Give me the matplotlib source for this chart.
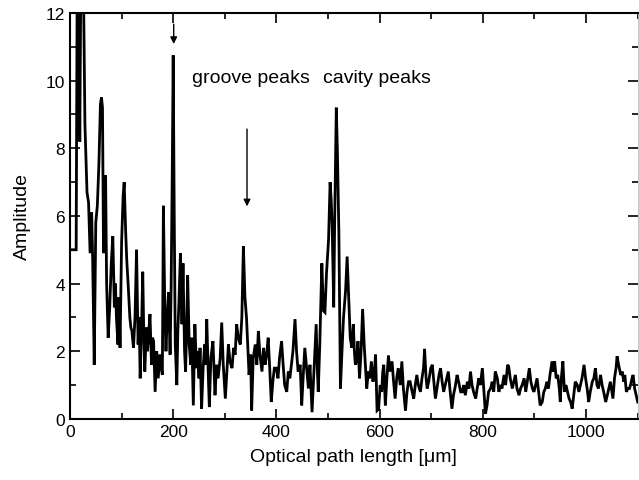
import matplotlib
matplotlib.use("Agg")
import matplotlib.pyplot as plt
from matplotlib.ticker import MultipleLocator

plt.rcParams['font.family'] = ['Liberation Sans', 'DejaVu Sans']

path_um = [
    0, 12, 14, 17, 19, 21, 26, 29, 33, 36, 39, 42, 44, 47, 50, 53, 56, 59, 61, 63,
    65, 67, 69, 71, 74, 77, 80, 83, 86, 88, 90, 93, 95, 97, 100, 103, 105, 108, 110, 113,
    116, 118, 120, 123, 126, 129, 132, 134, 136, 139, 141, 143, 145, 148, 150, 152, 155, 158, 160, 162,
    165, 168, 171, 174, 176, 179, 181, 184, 186, 189, 191, 194, 196, 198, 200, 202, 204, 207, 209, 211,
    214, 217, 219, 222, 224, 226, 228, 231, 234, 236, 239, 242, 245, 247, 250, 252, 255, 258, 261, 263,
    265, 268, 270, 273, 277, 279, 281, 284, 287, 291, 294, 297, 301, 304, 307, 310, 314, 317, 320, 323,
    326, 330, 333, 336, 339, 342, 345, 347, 350, 352, 355, 359, 362, 365, 368, 372, 375, 378, 381, 384,
    387, 390, 393, 396, 400, 403, 406, 410, 413, 416, 420, 423, 426, 429, 432, 436, 439, 442, 446, 449,
    452, 455, 458, 462, 465, 469, 472, 475, 477, 479, 481, 484, 486, 488, 491, 494, 497, 501, 504, 506,
    508, 511, 513, 516, 518, 521, 524, 527, 530, 534, 537, 540, 543, 546, 549, 551, 553, 555, 558, 561,
    564, 567, 570, 573, 575, 578, 581, 584, 587, 590, 592, 595, 598, 601, 604, 606, 608, 611, 614, 617,
    620, 624, 627, 630, 633, 636, 640, 643, 646, 650, 653, 656, 659, 663, 666, 669, 672, 675, 679, 682,
    685, 687, 690, 692, 695, 699, 702, 705, 708, 711, 715, 718, 721, 724, 727, 730, 733, 736, 740, 743,
    747, 750, 753, 757, 760, 763, 766, 770, 773, 776, 779, 782, 786, 789, 792, 795, 799, 802, 805, 808,
    811, 815, 818, 821, 824, 828, 831, 834, 837, 841, 844, 848, 850, 853, 857, 860, 863, 866, 870, 873,
    876, 880, 883, 886, 890, 893, 896, 899, 902, 905, 908, 911, 915, 918, 921, 924, 927, 930, 934, 937,
    939, 942, 945, 948, 950, 952, 955, 958, 961, 964, 967, 970, 973, 976, 979, 983, 986, 989, 992, 996,
    999, 1002, 1005, 1008, 1012, 1015, 1018, 1021, 1024, 1028, 1031, 1034, 1038, 1041, 1044, 1047, 1050, 1052, 1055, 1058,
    1060, 1063, 1067, 1070, 1073, 1075, 1078, 1081, 1084, 1086, 1089, 1091, 1094, 1097, 1100,
]

amplitude = [
    5.0, 5.0, 13.0, 13.0, 8.2, 13.0, 13.0, 8.7, 6.7, 6.4, 4.9, 6.1, 4.7, 1.6, 5.8, 6.3, 7.5, 9.3, 9.5, 9.2,
    4.9, 5.6, 7.2, 4.0, 2.4, 3.3, 4.6, 5.4, 3.3, 4.0, 3.0, 2.2, 3.6, 2.1, 5.2, 6.6, 7.0, 5.5, 4.7, 3.9,
    3.0, 2.7, 2.6, 2.1, 3.0, 5.0, 2.2, 3.0, 1.2, 2.9, 4.35, 2.5, 1.4, 2.7, 2.0, 2.4, 3.1, 1.6, 2.4, 2.3,
    0.8, 2.0, 1.2, 1.9, 1.6, 1.3, 6.3, 3.0, 2.0, 3.2, 3.75, 1.9, 3.9, 7.0, 10.75, 6.0, 2.2, 1.0, 2.6, 3.4,
    4.9, 2.8, 4.6, 2.0, 1.4, 2.6, 4.25, 2.2, 1.6, 2.4, 0.4, 2.8, 1.5, 2.0, 1.2, 2.1, 0.3, 1.5, 2.2, 1.6,
    2.95, 1.3, 0.35, 1.8, 2.3, 1.5, 0.7, 1.6, 1.2, 1.8, 2.85, 1.6, 0.6, 1.4, 2.2, 1.7, 1.5, 2.1, 1.9, 2.8,
    2.4, 2.2, 3.0, 5.1, 3.6, 3.0, 2.0, 1.3, 1.9, 0.25, 1.8, 2.2, 1.6, 2.6, 1.9, 1.4, 2.1, 1.6, 1.9, 2.4,
    1.5, 0.5, 1.1, 1.5, 1.5, 1.2, 1.8, 2.3, 1.6, 1.0, 0.8, 1.4, 1.2, 1.6, 2.0, 2.95, 2.0, 1.4, 1.6, 0.4,
    1.3, 2.1, 1.6, 0.9, 1.6, 0.2, 1.2, 2.2, 2.8, 1.6, 0.8, 2.2, 3.4, 4.6, 3.2, 3.15, 4.3, 5.3, 7.0, 6.5,
    5.7, 3.3, 6.0, 9.2, 8.0, 5.5, 0.9, 2.0, 3.0, 3.8, 4.8, 3.6, 2.4, 2.1, 2.8, 2.0, 1.6, 1.7, 2.3, 1.2,
    2.0, 3.25, 2.2, 1.4, 0.9, 1.4, 1.2, 1.7, 1.1, 1.4, 1.9, 0.25, 0.3, 1.0, 0.8, 1.4, 1.6, 0.4, 1.2, 1.87,
    1.4, 1.7, 1.1, 0.6, 1.2, 1.5, 1.0, 1.7, 0.9, 0.24, 0.8, 1.1, 1.1, 0.8, 0.6, 1.0, 1.3, 1.0, 0.8, 1.2,
    1.5, 2.07, 1.2, 0.9, 1.1, 1.5, 1.6, 1.1, 0.6, 0.9, 1.3, 1.5, 1.1, 0.8, 1.0, 1.2, 1.4, 0.9, 0.3, 0.7,
    1.0, 1.3, 1.1, 0.8, 0.8, 1.0, 0.7, 1.1, 0.9, 1.4, 1.0, 0.8, 0.6, 0.9, 1.2, 1.0, 1.5, 0.8, 0.15, 0.4,
    0.8, 0.9, 1.1, 0.8, 1.4, 1.2, 0.8, 1.0, 0.9, 1.3, 1.0, 1.6, 1.55, 1.2, 0.9, 1.1, 1.3, 0.9, 0.7, 0.9,
    1.0, 1.2, 0.8, 1.1, 1.5, 1.1, 0.9, 0.8, 1.0, 1.2, 0.8, 0.4, 0.5, 0.8, 0.9, 1.1, 0.9, 1.3, 1.7, 1.4,
    1.7, 1.2, 1.3, 0.9, 0.5, 1.2, 1.7, 0.8, 1.0, 0.8, 0.6, 0.5, 0.3, 0.7, 1.1, 1.0, 0.8, 1.0, 1.2, 1.6,
    1.2, 0.9, 0.5, 0.8, 1.1, 1.2, 1.5, 1.0, 0.9, 1.3, 1.0, 0.8, 0.5, 0.7, 0.9, 1.1, 0.8, 0.6, 1.2, 1.5,
    1.85, 1.6, 1.3, 1.4, 1.1, 1.3, 0.8, 0.9, 0.9, 1.0, 1.2, 1.3, 0.9, 0.7, 0.5,
]

x_ticks = [0, 200, 400, 600, 800, 1000]
y_ticks = [0, 2, 4, 6, 8, 10, 12]
annotations = ["groove peaks", "cavity peaks"]

fig = plt.figure(figsize=(6.39, 4.81), dpi=100)
ax = fig.add_axes([0.1095, 0.127, 0.8885, 0.844])

ax.plot(path_um, amplitude, color='black', lw=2.0, solid_joinstyle='miter')

ax.set_xlim(0, 1100)
ax.set_ylim(0, 12)
ax.set_xticks(x_ticks)
ax.set_yticks(y_ticks)
ax.xaxis.set_minor_locator(MultipleLocator(100))
ax.yaxis.set_minor_locator(MultipleLocator(1))
ax.tick_params(which='both', direction='in', top=True, right=True, width=1.2, labelsize=12.5)
ax.tick_params(which='major', length=7)
ax.tick_params(which='minor', length=4)
for s in ax.spines.values():
    s.set_linewidth(1.5)
ax.spines['right'].set_linewidth(0.6)
ax.spines['right'].set_color('#bbbbbb')

ax.set_xlabel("Optical path length [\u03bcm]", fontsize=14, labelpad=7)
ax.set_ylabel("Amplitude", fontsize=14, labelpad=11)

ax.text(237, 10.1, annotations[0], fontsize=14, va='center', ha='left')
ax.text(490, 10.1, annotations[1], fontsize=14, va='center', ha='left')

ax.annotate("", xy=(201, 11.0), xytext=(201, 11.75),
            arrowprops=dict(arrowstyle='-|>', color='black', lw=1.0, mutation_scale=10))
ax.annotate("", xy=(343, 6.2), xytext=(343, 8.65),
            arrowprops=dict(arrowstyle='-|>', color='black', lw=1.0, mutation_scale=10))

fig.savefig("out.png", dpi=100)
